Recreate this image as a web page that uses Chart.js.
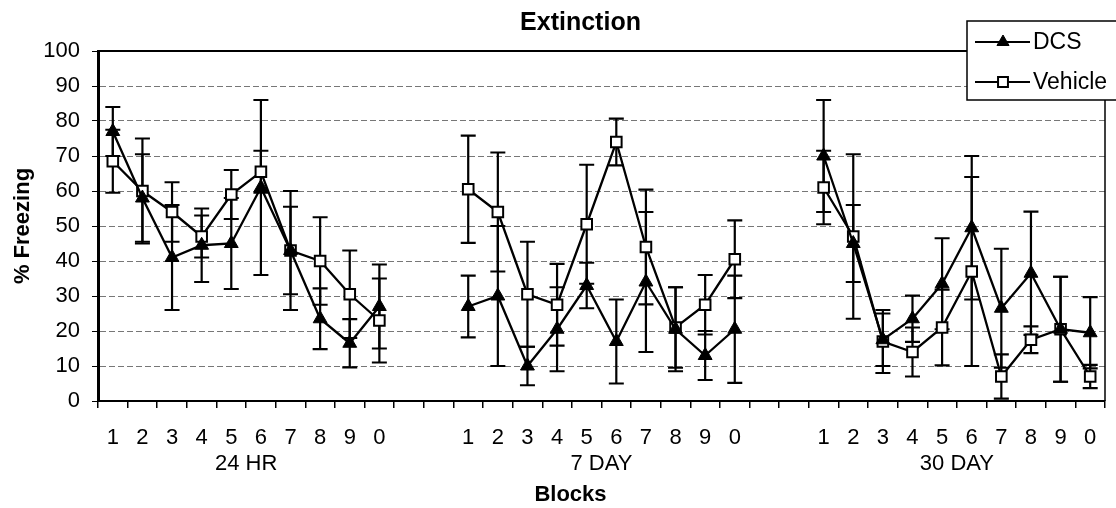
<!DOCTYPE html>
<html>
<head>
<meta charset="utf-8">
<title>Extinction</title>
<script src="https://cdn.jsdelivr.net/npm/chart.js@4.4.1/dist/chart.umd.min.js"></script>
<style>
  html, body { margin: 0; padding: 0; background: #fff; }
  #wrap { width: 1116px; height: 508px; }
</style>
</head>
<body>
<div id="wrap"><canvas id="extinctionChart"></canvas></div>
<script>
// blocks within each test, and the three tests
const blockLabels = ['1', '2', '3', '4', '5', '6', '7', '8', '9', '0'];
const groupLabels = ['24 HR', '7 DAY', '30 DAY'];
const gapSlots = 2;
const yTicks = [0, 10, 20, 30, 40, 50, 60, 70, 80, 90, 100];

// % freezing (24 HR, 7 DAY, 30 DAY)
const dcsValues = [
    77, 58, 41, 44.5, 45, 61, 43, 23.5, 16.5, 27,
    27, 30, 10, 20.5, 33, 17, 34, 20.5, 13, 20.5,
    70, 45, 17.5, 23.5, 33.5, 49.5, 26.5, 36.5, 20.5, 19.5
];
const dcsErrors = [
    7, 12.5, 15, 10.5, 13, 25, 17, 8.7, 6.9, 12,
    8.8, 20, 5.5, 12, 6.5, 12, 20, 12, 7, 15.3,
    16, 11, 7.5, 6.6, 13, 20.5, 17, 17.6, 15, 10.2
];
const vehicleValues = [
    68.5, 60, 54, 47, 59, 65.5, 43, 40, 30.5, 23,
    60.5, 54, 30.5, 27.5, 50.5, 74, 44, 21, 27.5, 40.5,
    61, 47, 17, 14, 21, 37, 7, 17.5, 20.5, 7
];
const vehicleErrors = [
    9, 15, 8.5, 6, 7, 6, 12.5, 12.5, 12.5, 12,
    15.3, 17, 15, 11.7, 17, 6.7, 16.4, 11.5, 8.5, 11.1,
    10.5, 23.5, 9, 7, 10.8, 27, 6.3, 3.8, 15, 3.3
];

document.addEventListener('DOMContentLoaded', function() {
    const FONT = "'Liberation Sans', Arial, sans-serif";
    Chart.defaults.font.family = FONT;
    Chart.defaults.color = '#000';

    // spread 10 values per group over the axis, with empty slots between groups
    const withGaps = (arr) => {
        const out = [];
        groupLabels.forEach((g, gi) => {
            if (gi > 0) for (let k = 0; k < gapSlots; k++) out.push(null);
            for (let b = 0; b < blockLabels.length; b++) out.push(arr[gi * blockLabels.length + b]);
        });
        return out;
    };
    const labels = withGaps(groupLabels.flatMap(() => blockLabels)).map(l => l === null ? '' : l);
    const groupStart = (gi) => gi * (blockLabels.length + gapSlots);

    const dcsData = withGaps(dcsValues);
    const dcsErrData = withGaps(dcsErrors);
    const vehData = withGaps(vehicleValues);
    const vehErrData = withGaps(vehicleErrors);

    const capHalf = 7.5;

    const decorPlugin = {
        id: 'decor',
        beforeDatasetsDraw(chart) {
            const { ctx, scales: { x, y } } = chart;
            ctx.save();
            ctx.strokeStyle = '#000';
            ctx.lineWidth = 2.2;
            [[dcsData, dcsErrData], [vehData, vehErrData]].forEach(([vals, errs]) => {
                vals.forEach((v, i) => {
                    if (v == null || errs[i] == null) return;
                    const px = x.getPixelForValue(i);
                    const top = y.getPixelForValue(v + errs[i]);
                    const bot = y.getPixelForValue(Math.max(0, v - errs[i]));
                    ctx.beginPath();
                    ctx.moveTo(px, top); ctx.lineTo(px, bot);
                    ctx.moveTo(px - capHalf, top); ctx.lineTo(px + capHalf, top);
                    ctx.moveTo(px - capHalf, bot); ctx.lineTo(px + capHalf, bot);
                    ctx.stroke();
                });
            });
            ctx.restore();
        },
        afterDraw(chart) {
            const { ctx, chartArea: a, scales: { x } } = chart;
            ctx.save();
            // frame: top and right edges of the plot
            ctx.strokeStyle = '#000';
            ctx.lineWidth = 2;
            ctx.beginPath();
            ctx.moveTo(a.left, a.top); ctx.lineTo(a.right, a.top);
            ctx.stroke();
            ctx.lineWidth = 1.5;
            ctx.beginPath();
            ctx.moveTo(a.right, a.top); ctx.lineTo(a.right, a.bottom);
            ctx.stroke();

            ctx.fillStyle = '#000';
            ctx.textBaseline = 'middle';
            ctx.textAlign = 'center';

            // group names under the block numbers
            ctx.font = '22px ' + FONT;
            groupLabels.forEach((g, gi) => {
                const s = groupStart(gi);
                const cx = (x.getPixelForValue(s + 4) + x.getPixelForValue(s + 5)) / 2;
                ctx.fillText(g, cx, a.bottom + 63);
            });

            // titles
            const mid = (a.left + a.right) / 2;
            ctx.font = 'bold 25px ' + FONT;
            ctx.fillText('Extinction', mid - 21, 23);
            ctx.font = 'bold 22px ' + FONT;
            ctx.fillText('Blocks', mid - 31, 495);

            // legend box
            const lx = 967, ly = 21, lh = 79;
            ctx.fillStyle = '#fff';
            ctx.fillRect(lx, ly, 160, lh);
            ctx.strokeStyle = '#000';
            ctx.lineWidth = 1.5;
            ctx.strokeRect(lx, ly, 160, lh);
            const entries = chart.data.datasets.map((ds, i) => ({ ds, cy: ly + 21 + i * 40 }));
            entries.forEach(({ ds, cy }) => {
                ctx.lineWidth = 2;
                ctx.strokeStyle = '#000';
                ctx.beginPath();
                ctx.moveTo(975, cy); ctx.lineTo(1030, cy);
                ctx.stroke();
                ctx.fillStyle = ds.pointBackgroundColor;
                ctx.strokeStyle = ds.pointBorderColor;
                ctx.lineWidth = ds.pointBorderWidth;
                Chart.helpers.drawPoint(ctx, {
                    pointStyle: ds.pointStyle, radius: 7, borderWidth: ds.pointBorderWidth, rotation: 0
                }, 1003, cy);
                ctx.fillStyle = '#000';
                ctx.textAlign = 'left';
                ctx.font = '23px ' + FONT;
                ctx.fillText(ds.label, 1033, cy + 1);
            });
            ctx.restore();
        }
    };

    const ctx = document.getElementById('extinctionChart').getContext('2d');
    new Chart(ctx, {
        type: 'line',
        data: {
            labels: labels,
            datasets: [
                {
                    label: 'DCS',
                    data: dcsData,
                    borderColor: '#000',
                    borderWidth: 2.3,
                    pointStyle: 'triangle',
                    pointRadius: 8,
                    pointBackgroundColor: '#000',
                    pointBorderColor: '#000',
                    pointBorderWidth: 1,
                    spanGaps: false,
                    tension: 0
                },
                {
                    label: 'Vehicle',
                    data: vehData,
                    borderColor: '#000',
                    borderWidth: 2.3,
                    pointStyle: 'rect',
                    pointRadius: 7.5,
                    pointBackgroundColor: '#fff',
                    pointBorderColor: '#000',
                    pointBorderWidth: 2,
                    spanGaps: false,
                    tension: 0
                }
            ]
        },
        options: {
            responsive: true,
            maintainAspectRatio: false,
            animation: false,
            layout: { padding: { top: 51, right: 11, left: 0, bottom: 0 } },
            scales: {
                x: {
                    type: 'category',
                    offset: true,
                    grid: {
                        offset: true,
                        drawOnChartArea: false,
                        drawTicks: true,
                        tickLength: 7,
                        tickColor: '#000',
                        lineWidth: 1.5
                    },
                    border: { color: '#000', width: 2 },
                    ticks: {
                        autoSkip: false,
                        maxRotation: 0,
                        padding: 17,
                        font: { size: 22 },
                        color: '#000'
                    },
                    afterFit: (s) => { s.height = 107; }
                },
                y: {
                    min: 0,
                    max: 100,
                    afterBuildTicks: (s) => { s.ticks = yTicks.map(v => ({ value: v })); },
                    grid: {
                        color: '#777',
                        lineWidth: 1,
                        tickLength: 6,
                        tickColor: '#000'
                    },
                    border: { color: '#000', width: 3, dash: [6, 3] },
                    ticks: {
                        padding: 12,
                        font: { size: 22 },
                        color: '#000'
                    },
                    title: {
                        display: true,
                        text: '% Freezing',
                        font: { size: 22, weight: 'bold' },
                        padding: { top: 10, bottom: 0 }
                    },
                    afterFit: (s) => { s.width = 98; }
                }
            },
            plugins: {
                legend: { display: false },
                title: { display: false },
                tooltip: { enabled: false }
            }
        },
        plugins: [decorPlugin]
    });
});
</script>
</body>
</html>
